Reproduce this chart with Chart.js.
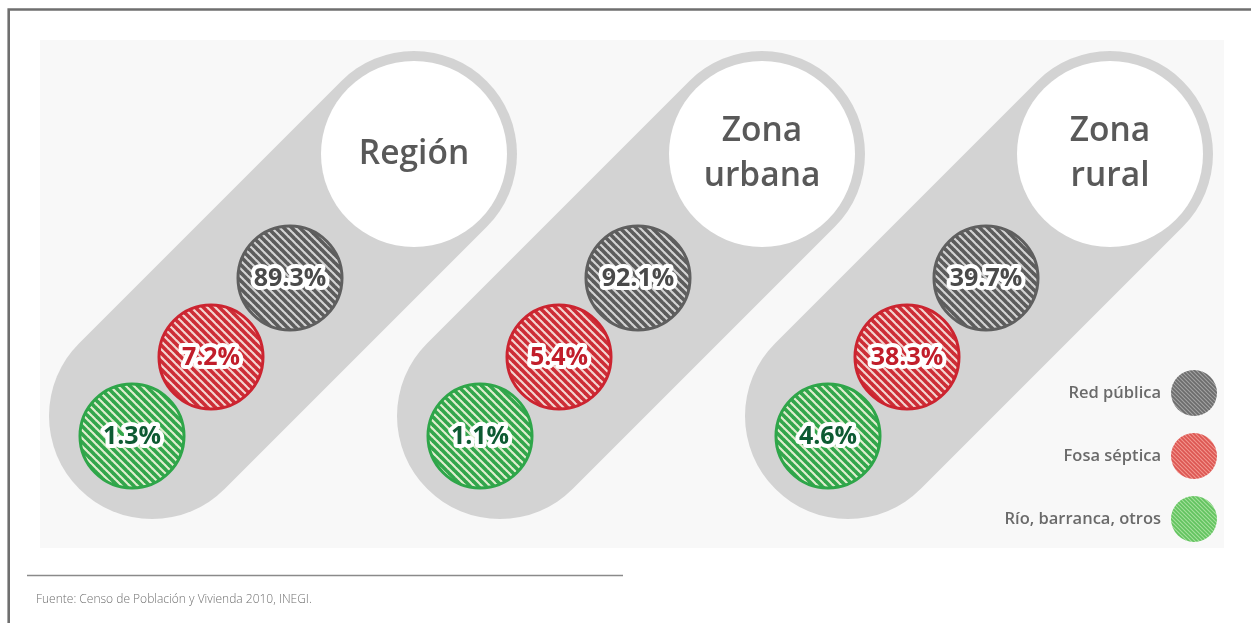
<!DOCTYPE html>
<html><head><meta charset="utf-8">
<script src="https://cdn.jsdelivr.net/npm/chart.js@4.4.1/dist/chart.umd.min.js"></script>
<style>html,body{margin:0;padding:0;background:#fff;}canvas{display:block;}</style>
</head><body>
<canvas id="c" width="1251" height="623"></canvas>
<script>
// ---- data ----
const categories = ["Región", "Zona urbana", "Zona rural"];
const seriesNames = ["Red pública", "Fosa séptica", "Río, barranca, otros"];
const redPublica = [89.3, 92.1, 39.7];
const fosaSeptica = [7.2, 5.4, 38.3];
const rioBarranca = [1.3, 1.1, 4.6];
const sourceText = "Fuente: Censo de Población y Vivienda 2010, INEGI.";

// ---- layout (pixel units of the hidden linear scales) ----
const L = {panelX0: 414, panelDX: 348, titleY: 154, capR: 103, titleR: 93,
           capEnd: 262, slot0: 124, slotStep: 79, dotR: 52};
function pos(i, d) { return {x: L.panelX0 + i * L.panelDX - d, y: L.titleY + d}; }

const canvas = document.getElementById('c');
const ctx0 = canvas.getContext('2d');
function hatch(bg, fg, period, lw) {
  const c = document.createElement('canvas'); c.width = c.height = period;
  const g = c.getContext('2d');
  g.fillStyle = bg; g.fillRect(0, 0, period, period);
  g.strokeStyle = fg; g.lineWidth = lw;
  for (let k = -1; k <= 1; k++) {
    g.beginPath(); g.moveTo(k * period - 1, -1); g.lineTo(k * period + period + 1, period + 1); g.stroke();
  }
  return ctx0.createPattern(c, 'repeat');
}

const styles = [
  {stroke: '#5f5f5f', fill: hatch('#d4d4d4', '#5c5c5c', 8, 3.6), text: '#4a4a4a',
   legend: hatch('#a2a2a2', '#6c6c6c', 4, 1.7)},
  {stroke: '#cc2430', fill: hatch('#f3d6d2', '#cd2d36', 8, 3.6), text: '#c11d2a',
   legend: hatch('#f2968e', '#dc5652', 4, 1.7)},
  {stroke: '#2ea649', fill: hatch('#e2eed0', '#33a64c', 8, 3.6), text: '#0d5a32',
   legend: hatch('#a4e09c', '#62c35f', 4, 1.7)}
];
const seriesValues = [redPublica, fosaSeptica, rioBarranca];

const capsuleSets = categories.map((c, i) => ({
  label: 'cap' + i, showLine: true, data: [pos(i, 0), pos(i, L.capEnd)],
  borderColor: '#d3d3d3', borderWidth: 2 * L.capR, borderCapStyle: 'round',
  pointRadius: 0, pointHoverRadius: 0, order: 3, fill: false, clip: false
}));
const titleSet = {
  label: 'titles', data: categories.map((c, i) => pos(i, 0)),
  pointRadius: L.titleR, pointHoverRadius: L.titleR, pointBackgroundColor: '#ffffff',
  pointBorderWidth: 0, order: 2, clip: false
};
const seriesSets = seriesValues.map((vals, j) => ({
  label: seriesNames[j],
  data: vals.map((v, i) => Object.assign(pos(i, L.slot0 + j * L.slotStep), {v})),
  pointRadius: L.dotR, pointHoverRadius: L.dotR,
  pointBackgroundColor: styles[j].fill, pointBorderColor: styles[j].stroke,
  pointBorderWidth: 3, order: 1, clip: false
}));

const deco = {
  id: 'deco',
  beforeDraw(chart) {
    const ctx = chart.ctx; ctx.save();
    ctx.fillStyle = '#ffffff'; ctx.fillRect(0, 0, chart.width, chart.height);
    ctx.fillStyle = '#f8f8f8'; ctx.fillRect(40, 40, 1184, 508);
    ctx.strokeStyle = '#6f6f6f'; ctx.lineWidth = 2.6;
    ctx.beginPath(); ctx.moveTo(8.7, chart.height); ctx.lineTo(8.7, 9.5); ctx.lineTo(chart.width, 9.5); ctx.stroke();
    ctx.restore();
  },
  afterDatasetsDraw(chart) {
    const ctx = chart.ctx; ctx.save();
    ctx.textAlign = 'center'; ctx.textBaseline = 'middle';
    // titles
    const tMeta = chart.getDatasetMeta(capsuleSets.length);
    ctx.font = '600 33.5px "Open Sans"'; ctx.fillStyle = '#595959';
    tMeta.data.forEach((el, i) => {
      const lines = categories[i].split(' ');
      const lh = 45;
      lines.forEach((t, k) => ctx.fillText(t, el.x, el.y + (k - (lines.length - 1) / 2) * lh));
    });
    // values
    ctx.font = 'bold 25px "Open Sans"'; ctx.lineJoin = 'round';
    seriesSets.forEach((ds, j) => {
      const meta = chart.getDatasetMeta(capsuleSets.length + 1 + j);
      meta.data.forEach((el, i) => {
        const t = seriesValues[j][i].toFixed(1) + '%';
        ctx.strokeStyle = '#ffffff'; ctx.lineWidth = 8; ctx.strokeText(t, el.x, el.y + 1);
        ctx.fillStyle = styles[j].text; ctx.fillText(t, el.x, el.y + 1);
      });
    });
    ctx.restore();
  },
  afterDraw(chart) {
    const ctx = chart.ctx; ctx.save();
    // legend
    ctx.font = '600 16.5px "Open Sans"'; ctx.textAlign = 'right'; ctx.textBaseline = 'middle';
    seriesNames.forEach((n, j) => {
      const y = 393 + j * 63;
      ctx.fillStyle = '#6a6a6a'; ctx.fillText(n, 1161, y);
      ctx.beginPath(); ctx.arc(1194, y, 23, 0, Math.PI * 2);
      ctx.fillStyle = styles[j].legend; ctx.fill();
    });
    // source
    ctx.strokeStyle = '#8a8a8a'; ctx.lineWidth = 1.5;
    ctx.beginPath(); ctx.moveTo(27, 575.5); ctx.lineTo(623, 575.5); ctx.stroke();
    ctx.font = '300 12px "Open Sans"'; ctx.textAlign = 'left'; ctx.fillStyle = '#6f6f6f';
    ctx.fillText(sourceText, 36, 600);
    ctx.restore();
  }
};

new Chart(canvas, {
  type: 'scatter',
  data: {datasets: [...capsuleSets, titleSet, ...seriesSets]},
  options: {
    responsive: false, animation: false, events: [],
    layout: {padding: 0, autoPadding: false},
    plugins: {legend: {display: false}, tooltip: {enabled: false}},
    scales: {
      x: {type: 'linear', min: 0, max: 1251, display: false},
      y: {type: 'linear', min: 0, max: 623, reverse: true, display: false}
    }
  },
  plugins: [deco]
});
</script>
</body></html>
